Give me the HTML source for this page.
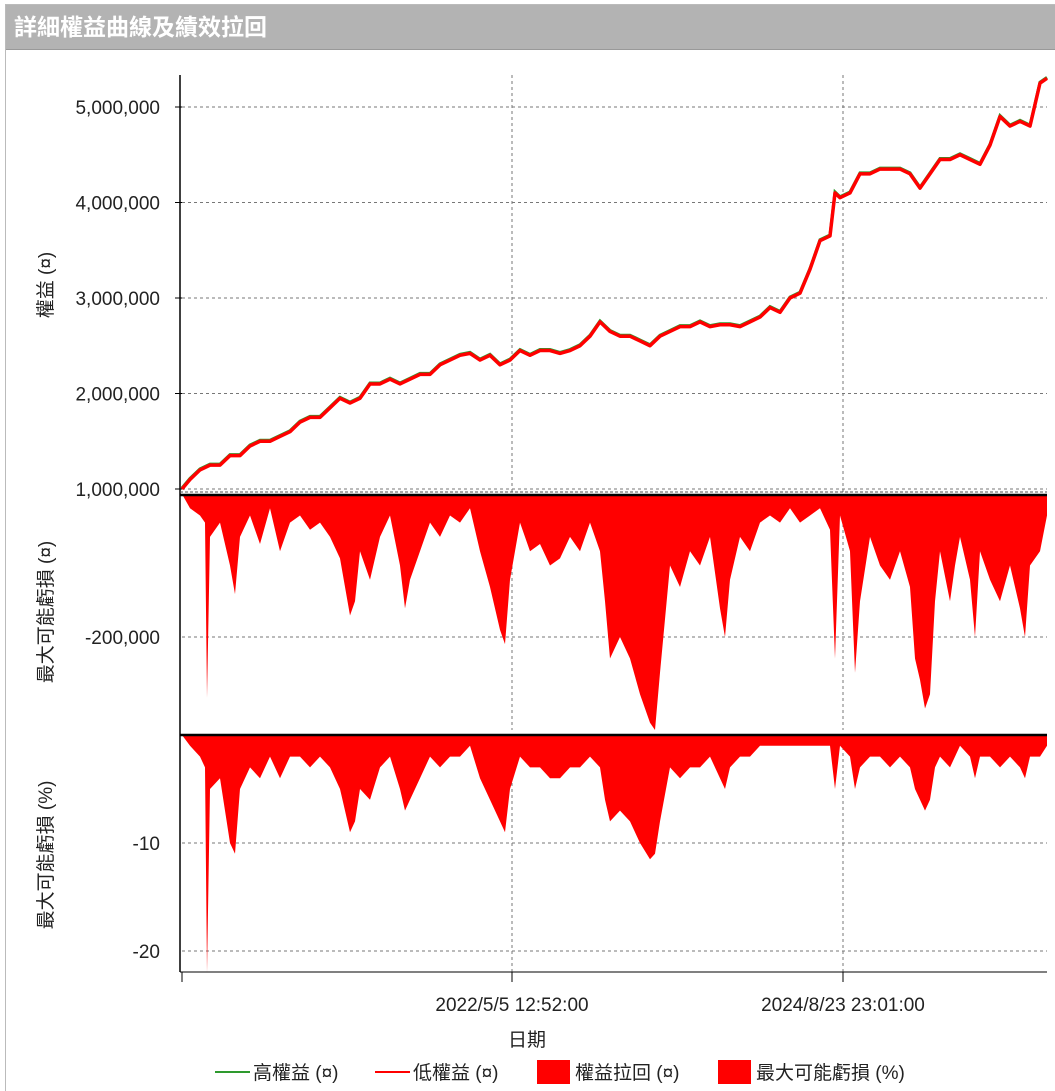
<!DOCTYPE html>
<html><head><meta charset="utf-8"><style>
body{margin:0;width:1055px;height:1090px;background:#fff;overflow:hidden;font-family:"Liberation Sans","Noto Sans CJK TC",sans-serif;}
#frame{position:absolute;left:5px;top:4px;width:1050px;height:1086px;border-left:1px solid #bbb;border-top:1px solid #bbb;}
#title{position:absolute;left:6px;top:5px;width:1049px;height:45px;background:#b3b3b3;border-bottom:1px solid #999;color:#fff;font-size:23px;font-weight:bold;line-height:45px;padding-left:8px;box-sizing:border-box;}
svg{position:absolute;left:0;top:0;}
</style></head><body>
<div id="frame"></div>
<div id="title">詳細權益曲線及績效拉回</div>
<svg id="c" width="1055" height="1090"></svg>
<script>
const idx=[0,8,18,28,38,48,58,68,78,88,98,108,118,128,138,148,158,168,178,188,198,208,218,228,238,248,258,268,278,288,298,308,318,328,338,348,358,368,378,388,398,408,418,428,438,448,458,468,478,488,498,508,518,528,538,548,558,568,578,588,598,608,618,628,638,648,653,658,668,678,688,698,708,718,728,738,748,758,768,778,788,798,808,818,828,838,848,858,865];
const equity=[1.0,1.1,1.2,1.25,1.25,1.35,1.35,1.45,1.5,1.5,1.55,1.6,1.7,1.75,1.75,1.85,1.95,1.9,1.95,2.1,2.1,2.15,2.1,2.15,2.2,2.2,2.3,2.35,2.4,2.42,2.35,2.4,2.3,2.35,2.45,2.4,2.45,2.45,2.42,2.45,2.5,2.6,2.75,2.65,2.6,2.6,2.55,2.5,2.6,2.65,2.7,2.7,2.75,2.7,2.72,2.72,2.7,2.75,2.8,2.9,2.85,3.0,3.05,3.3,3.6,3.65,4.1,4.05,4.1,4.3,4.3,4.35,4.35,4.35,4.3,4.15,4.3,4.45,4.45,4.5,4.45,4.4,4.6,4.9,4.8,4.85,4.8,5.25,5.3];
const ddIdx=[0,8,18,23,25,28,38,48,53,58,68,78,88,98,108,118,128,138,148,158,168,173,178,188,198,208,218,223,228,238,248,258,268,278,288,298,308,318,323,328,338,348,358,368,378,388,398,408,418,423,428,438,448,458,468,473,478,488,498,508,518,528,538,543,548,558,568,578,588,598,608,618,628,638,648,653,658,668,673,678,688,698,708,718,728,733,738,743,748,753,758,768,773,778,788,793,798,808,818,828,838,843,848,858,865];
const ddAbs=[0,-20,-30,-40,-285,-60,-40,-100,-140,-60,-30,-70,-20,-80,-40,-30,-50,-40,-60,-90,-170,-150,-80,-120,-60,-30,-100,-160,-120,-80,-40,-60,-30,-40,-20,-80,-130,-190,-210,-120,-40,-80,-70,-100,-90,-60,-80,-40,-80,-150,-230,-200,-230,-280,-320,-330,-250,-100,-130,-80,-100,-60,-160,-200,-120,-60,-80,-40,-30,-40,-20,-40,-30,-20,-50,-230,-30,-80,-250,-150,-60,-100,-120,-80,-130,-230,-260,-300,-280,-150,-80,-150,-100,-60,-120,-200,-80,-120,-150,-100,-160,-200,-100,-80,-30];
const ddPct=[0,-1,-2,-3,-22,-5,-4,-10,-11,-5,-3,-4,-2,-4,-2,-2,-3,-2,-3,-5,-9,-8,-5,-6,-3,-2,-5,-7,-6,-4,-2,-3,-2,-2,-1,-4,-6,-8,-9,-5,-2,-3,-3,-4,-4,-3,-3,-2,-3,-6,-8,-7,-8,-10,-11.5,-11,-8,-3,-4,-3,-3,-2,-4,-5,-3,-2,-2,-1,-1,-1,-1,-1,-1,-1,-1,-5,-1,-2,-5,-3,-2,-2,-3,-2,-3,-5,-6,-7,-6,-3,-2,-3,-2,-1,-2,-4,-2,-2,-3,-2,-3,-4,-2,-2,-1];
const eqTicks=[1,2,3,4,5];
const absTicks=[-200];
const pctTicks=[-10,-20];
const xTickIdx=[0,330,661];
const xTickLabels=["","2022/5/5 12:52:00","2024/8/23 23:01:00"];

const X0=182,X1=1047,N=865;
const x=i=>X0+(X1-X0)*i/N;
const yEq=v=>489-(v-1)*95.5;
const yAbs=k=>494-k*0.715;   // k in thousands
const yPct=v=>735-v*10.8;
const svg=document.getElementById('c');
const NS='http://www.w3.org/2000/svg';
function mk(t,a,p){const e=document.createElementNS(NS,t);for(const k in a)e.setAttribute(k,a[k]);(p||svg).appendChild(e);return e;}
function txt(s,a){const e=mk('text',a);e.textContent=s;return e;}
[[75,492],[494,730],[735,972]].forEach(function(r){
  xTickIdx.slice(1).forEach(function(i){
    const g=mk('line',{x1:x(i),x2:x(i),y1:r[0],y2:r[1],stroke:'#777','stroke-dasharray':'3,3','stroke-width':1});
    
    
  });
});
eqTicks.forEach(function(v){
  const l=mk('line',{x1:182,x2:1047,y1:yEq(v),y2:yEq(v),stroke:'#777','stroke-dasharray':'3,3'});
  
  
  mk('line',{x1:175,x2:182,y1:yEq(v),y2:yEq(v),stroke:'#000'});
  const t=txt((v*1000000).toLocaleString('en-US'),{x:160,y:yEq(v)+7,'text-anchor':'end','font-size':19,fill:'#222'});
  
  
});
absTicks.forEach(function(v){
  mk('line',{x1:182,x2:1047,y1:yAbs(v),y2:yAbs(v),stroke:'#777','stroke-dasharray':'3,3'});
  const t=txt((v*1000).toLocaleString('en-US'),{x:160,y:yAbs(v)+7,'text-anchor':'end','font-size':19,fill:'#222'});
  
  
});
pctTicks.forEach(function(v){
  mk('line',{x1:182,x2:1047,y1:yPct(v),y2:yPct(v),stroke:'#777','stroke-dasharray':'3,3'});
  const t=txt(String(v),{x:160,y:yPct(v)+7,'text-anchor':'end','font-size':19,fill:'#222'});
  
  
});
let pts=idx.map((i,k)=>x(i)+','+yEq(equity[k])).join(' ');
const g1=mk('polyline',{points:pts,fill:'none',stroke:'#2e9a2e','stroke-width':3,transform:'translate(0,-1)'});


const r1=mk('polyline',{points:pts,fill:'none',stroke:'#ff0000','stroke-width':3.5,'stroke-linejoin':'round'});


let pa='M'+x(0)+','+yAbs(0)+' '+ddIdx.map((i,k)=>'L'+x(i)+','+yAbs(ddAbs[k])).join(' ')+' L'+x(N)+','+yAbs(0)+'Z';
const a1=mk('path',{d:pa,fill:'#ff0000'});


let pp='M'+x(0)+','+yPct(0)+' '+ddIdx.map((i,k)=>'L'+x(i)+','+yPct(ddPct[k])).join(' ')+' L'+x(N)+','+yPct(0)+'Z';
const a2=mk('path',{d:pp,fill:'#ff0000'});


mk('line',{x1:180,x2:180,y1:75,y2:972,stroke:'#000','stroke-width':1.5});
mk('line',{x1:180,x2:1047,y1:492,y2:492,stroke:'#555','stroke-dasharray':'3,2'});
mk('line',{x1:180,x2:1047,y1:495,y2:495,stroke:'#000','stroke-width':2.5});
mk('line',{x1:180,x2:1047,y1:735,y2:735,stroke:'#000','stroke-width':2.5});
mk('line',{x1:180,x2:1047,y1:972,y2:972,stroke:'#000','stroke-width':1});
xTickIdx.forEach(function(i,k){
  mk('line',{x1:x(i),x2:x(i),y1:972,y2:982,stroke:'#000'});
  const t=txt(xTickLabels[k],{x:x(i),y:1011,'text-anchor':'middle','font-size':19,fill:'#222'});
  
  
});
[['權益 (¤)',285,'equity-axis-title'],['最大可能虧損 (¤)',612,'drawdown-abs-axis-title'],['最大可能虧損 (%)',855,'drawdown-pct-axis-title']].forEach(function(a){
  const t=txt(a[0],{x:0,y:0,'text-anchor':'middle','font-size':19,fill:'#222',transform:'translate(52,'+a[1]+') rotate(-90)'});
  
  
});
const xt=txt('日期',{x:527,y:1046,'text-anchor':'middle','font-size':19,fill:'#222'});


const lg=[['line','#2e9a2e',215,'高權益 (¤)','legend-high-equity'],['line','#ff0000',375,'低權益 (¤)','legend-low-equity'],['box','#ff0000',537,'權益拉回 (¤)','legend-equity-drawdown'],['box','#ff0000',718,'最大可能虧損 (%)','legend-max-loss-pct']];
lg.forEach(function(l){
  const g=mk('g',{});
  
  
  if(l[0]==='line')mk('line',{x1:l[2],x2:l[2]+35,y1:1072,y2:1072,stroke:l[1],'stroke-width':2},g);
  else mk('rect',{x:l[2],y:1060,width:33,height:24,fill:l[1]},g);
  const t=mk('text',{x:l[2]+38,y:1079,'font-size':19,fill:'#222'},g);
  t.textContent=l[3];
});
</script>
</body></html>
